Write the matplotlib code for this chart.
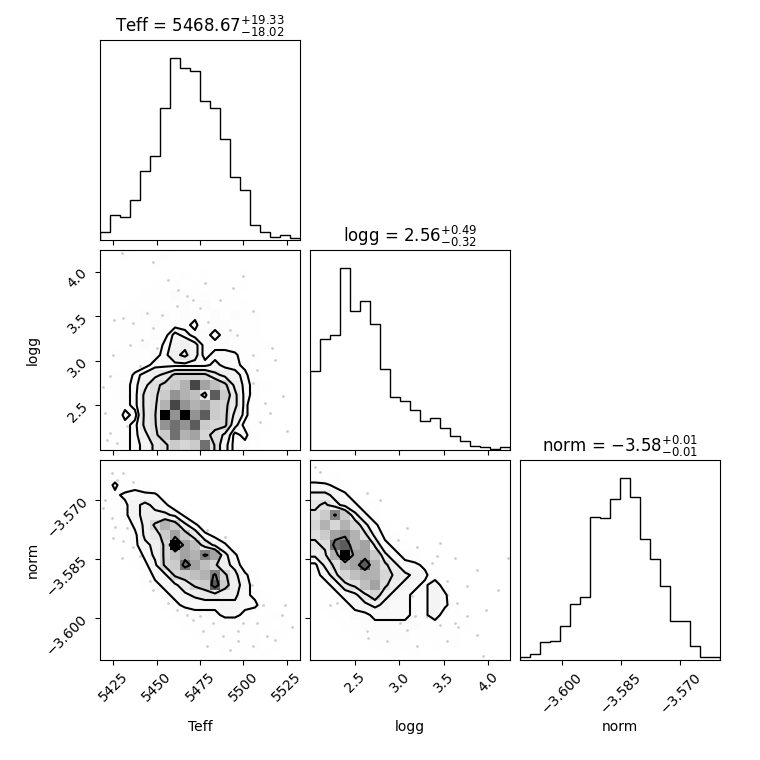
import numpy as np
import matplotlib
matplotlib.use("Agg")
import matplotlib.pyplot as plt
from matplotlib.colors import LinearSegmentedColormap

labels = ["Teff", "logg", "norm"]
titles = [r"Teff = $5468.67_{-18.02}^{+19.33}$",
          r"logg = $2.56_{-0.32}^{+0.49}$",
          r"norm = $-3.58_{-0.01}^{+0.01}$"]
ranges = [(5417.3, 5532.7), (1.996, 4.242), (-3.6107, -3.5599)]
ticks = [[5425, 5450, 5475, 5500, 5525], [2.5, 3.0, 3.5, 4.0], [-3.600, -3.585, -3.570]]
tick_labels = [["5425", "5450", "5475", "5500", "5525"],
               ["2.5", "3.0", "3.5", "4.0"],
               ["\u22123.600", "\u22123.585", "\u22123.570"]]

# 1D histogram counts (20 bins each)
teff_hist = [23, 74, 68, 120, 206, 251, 396, 545, 515, 507, 417, 396, 302, 188, 150, 44, 24, 9, 14, 6]
logg_hist = [236, 332, 345, 545, 416, 446, 377, 242, 158, 147, 120, 87, 95, 66, 41, 27, 12, 9, 4, 8]
norm_hist = [9, 17, 53, 56, 102, 167, 188, 429, 427, 484, 545, 488, 362, 302, 221, 118, 118, 41, 9, 9]

# 2D histogram counts, rows listed from top (high y) to bottom, columns left to right
teff_logg = [
    [0, 0, 1, 0, 0, 0, 1, 0, 0, 0, 0, 0, 0, 0, 0, 0, 0, 0, 0, 0],
    [0, 0, 0, 0, 0, 1, 0, 0, 0, 0, 0, 0, 0, 0, 0, 0, 0, 0, 0, 0],
    [0, 0, 0, 0, 0, 0, 0, 0, 1, 0, 1, 0, 0, 0, 1, 0, 0, 0, 0, 0],
    [0, 0, 0, 0, 0, 1, 1, 1, 0, 1, 0, 1, 1, 0, 1, 0, 0, 0, 0, 0],
    [0, 0, 0, 0, 1, 1, 1, 2, 1, 1, 1, 1, 1, 1, 0, 0, 0, 0, 0, 0],
    [0, 0, 0, 1, 1, 1, 1, 1, 2, 1, 2, 1, 1, 1, 1, 0, 0, 0, 0, 0],
    [0, 0, 1, 1, 2, 1, 2, 1, 2, 2, 1, 2, 1, 2, 1, 1, 0, 0, 0, 0],
    [0, 0, 1, 1, 1, 2, 1, 2, 2, 3, 1, 2, 2, 1, 1, 1, 0, 0, 0, 0],
    [0, 0, 1, 1, 1, 2, 2, 4, 3, 2, 2, 3, 2, 2, 1, 1, 0, 0, 0, 0],
    [0, 0, 1, 1, 2, 1, 3, 4, 5, 4, 2, 2, 2, 1, 1, 1, 1, 0, 0, 0],
    [0, 1, 1, 1, 1, 2, 3, 5, 6, 4, 2, 3, 3, 3, 1, 1, 0, 0, 0, 0],
    [0, 0, 1, 1, 2, 3, 3, 3, 3, 3, 3, 4, 3, 3, 2, 1, 1, 0, 0, 0],
    [0, 1, 1, 3, 4, 5, 6, 8, 8, 8, 8, 6, 5, 4, 3, 1, 0, 0, 0, 0],
    [0, 1, 2, 3, 5, 7, 8, 9, 11, 17, 12, 10, 8, 5, 3, 2, 1, 0, 0, 0],
    [0, 1, 2, 3, 6, 7, 9, 13, 11, 10, 6, 16, 9, 6, 3, 2, 0, 0, 0, 0],
    [1, 1, 2, 3, 6, 7, 11, 17, 13, 11, 12, 9, 8, 6, 3, 1, 1, 0, 0, 0],
    [0, 1, 3, 2, 6, 7, 20, 13, 20, 13, 16, 9, 8, 5, 3, 1, 0, 0, 0, 0],
    [1, 1, 2, 3, 6, 7, 13, 15, 13, 16, 9, 8, 8, 4, 2, 1, 1, 0, 0, 0],
    [0, 1, 2, 3, 5, 7, 9, 15, 11, 12, 8, 7, 5, 2, 3, 1, 0, 0, 0, 0],
    [1, 1, 2, 3, 4, 6, 7, 9, 8, 9, 15, 7, 4, 2, 2, 1, 0, 0, 0, 0],
]
teff_norm = [
    [0, 1, 0, 0, 0, 0, 0, 0, 0, 0, 0, 0, 0, 0, 0, 0, 0, 0, 0, 0],
    [1, 1, 1, 0, 0, 0, 0, 0, 0, 0, 0, 0, 0, 0, 0, 0, 0, 0, 0, 0],
    [1, 3, 1, 2, 1, 0, 0, 0, 0, 0, 0, 0, 0, 0, 0, 0, 0, 0, 0, 0],
    [1, 2, 3, 3, 3, 3, 1, 0, 0, 0, 0, 0, 0, 0, 0, 0, 0, 0, 0, 0],
    [0, 1, 2, 4, 5, 4, 3, 1, 0, 0, 0, 0, 0, 0, 0, 0, 0, 0, 0, 0],
    [0, 1, 2, 4, 5, 5, 5, 4, 2, 0, 0, 0, 0, 0, 0, 0, 0, 0, 0, 0],
    [0, 1, 1, 3, 5, 8, 11, 9, 5, 3, 1, 0, 0, 0, 0, 0, 0, 0, 0, 0],
    [0, 1, 1, 2, 5, 6, 9, 12, 9, 6, 3, 2, 0, 0, 0, 0, 0, 0, 0, 0],
    [0, 0, 1, 2, 4, 5, 8, 20, 12, 10, 6, 4, 3, 0, 0, 0, 0, 0, 0, 0],
    [0, 0, 1, 1, 3, 5, 8, 10, 12, 11, 14, 12, 5, 3, 0, 0, 0, 0, 0, 0],
    [0, 0, 0, 1, 2, 4, 8, 9, 15, 12, 10, 8, 5, 4, 1, 0, 0, 0, 0, 0],
    [0, 0, 0, 0, 1, 3, 4, 8, 9, 10, 11, 14, 8, 5, 3, 1, 0, 0, 0, 0],
    [0, 0, 0, 0, 1, 2, 3, 4, 6, 8, 9, 16, 9, 5, 4, 1, 0, 0, 0, 0],
    [0, 0, 0, 0, 0, 1, 2, 3, 4, 5, 6, 6, 5, 5, 3, 2, 1, 0, 0, 0],
    [0, 0, 0, 0, 0, 0, 1, 2, 3, 3, 3, 3, 4, 4, 3, 3, 1, 0, 0, 0],
    [0, 0, 0, 0, 0, 0, 0, 1, 1, 2, 2, 2, 3, 3, 2, 1, 1, 1, 0, 0],
    [0, 0, 0, 0, 0, 0, 0, 0, 1, 1, 1, 1, 1, 1, 1, 1, 1, 0, 1, 0],
    [0, 0, 0, 0, 0, 0, 0, 0, 0, 1, 1, 1, 1, 1, 1, 1, 0, 1, 1, 0],
    [0, 0, 0, 0, 0, 0, 0, 0, 0, 0, 0, 1, 1, 0, 1, 1, 0, 1, 0, 0],
    [0, 0, 0, 0, 0, 0, 0, 0, 0, 0, 0, 0, 1, 0, 1, 0, 1, 0, 0, 0],
]
logg_norm = [
    [1, 1, 0, 0, 0, 0, 0, 0, 0, 0, 0, 0, 0, 0, 0, 0, 0, 0, 0, 0],
    [1, 0, 1, 0, 0, 0, 0, 0, 0, 0, 0, 0, 0, 0, 0, 0, 0, 0, 0, 0],
    [3, 3, 2, 1, 0, 0, 0, 0, 0, 0, 0, 0, 0, 0, 0, 0, 0, 0, 0, 0],
    [5, 5, 4, 3, 1, 1, 0, 0, 0, 0, 0, 0, 0, 0, 0, 0, 0, 0, 0, 0],
    [6, 7, 5, 4, 3, 1, 1, 0, 0, 0, 0, 0, 0, 0, 0, 0, 0, 0, 0, 0],
    [7, 9, 14, 9, 5, 3, 1, 0, 0, 0, 0, 0, 0, 0, 0, 0, 0, 0, 0, 0],
    [8, 11, 8, 11, 8, 5, 3, 1, 0, 0, 0, 0, 0, 0, 0, 0, 0, 0, 0, 0],
    [7, 9, 12, 13, 11, 7, 4, 2, 1, 0, 0, 0, 0, 0, 0, 0, 0, 0, 0, 0],
    [6, 7, 15, 16, 11, 12, 6, 3, 2, 1, 0, 0, 0, 0, 0, 0, 0, 0, 0, 0],
    [5, 6, 11, 20, 12, 12, 9, 5, 3, 2, 1, 0, 0, 0, 0, 0, 0, 0, 0, 0],
    [2, 5, 7, 11, 12, 16, 11, 7, 5, 3, 3, 2, 1, 0, 0, 0, 0, 0, 0, 0],
    [2, 3, 6, 8, 10, 11, 11, 8, 6, 5, 4, 3, 1, 0, 0, 0, 0, 0, 0, 0],
    [1, 2, 3, 6, 7, 10, 12, 7, 5, 4, 3, 2, 4, 1, 0, 0, 0, 0, 0, 0],
    [1, 1, 2, 3, 4, 6, 8, 5, 4, 3, 2, 2, 4, 3, 0, 0, 0, 0, 0, 0],
    [0, 1, 1, 2, 3, 4, 5, 4, 3, 3, 2, 2, 4, 3, 1, 0, 0, 0, 0, 0],
    [0, 0, 1, 1, 2, 2, 3, 3, 3, 3, 2, 2, 4, 1, 1, 0, 0, 0, 0, 0],
    [0, 0, 0, 1, 1, 2, 2, 2, 2, 2, 2, 1, 1, 1, 1, 1, 0, 0, 0, 0],
    [0, 0, 0, 0, 1, 1, 2, 2, 2, 2, 1, 1, 1, 1, 1, 0, 0, 0, 0, 0],
    [0, 0, 0, 0, 0, 0, 1, 1, 1, 1, 1, 0, 1, 0, 1, 0, 0, 0, 0, 0],
    [0, 0, 0, 0, 0, 0, 0, 0, 1, 0, 1, 0, 0, 0, 0, 0, 0, 0, 0, 0],
]

# contour levels (in counts)
teff_logg_levels = [2.5, 3.5, 5.5, 7.5]
teff_norm_levels = [2.5, 4.5, 7.5, 13.5]
logg_norm_levels = [2.5, 4.5, 6.5, 13.5]

# sparse samples visible outside the contours
tl_teff = [5430.2, 5448.1, 5456.7, 5462.5, 5425.4, 5430.8, 5436.5, 5448.1, 5441.3, 5434.6, 5450.0, 5425.0,
           5477.9, 5486.5, 5467.3, 5475.0, 5494.2, 5500.0, 5505.8, 5516.3, 5505.8, 5518.3, 5507.7, 5505.8,
           5503.8, 5523.1, 5512.5, 5509.6, 5525.0, 5419.2, 5420.2, 5423.1, 5426.9, 5421.1, 5432.7, 5479.8,
           5492.3, 5496.2, 5461.5, 5471.2, 5452.9, 5444.2, 5487.5, 5423.1, 5440.4, 5515.4]
tl_logg = [4.207, 4.102, 3.907, 3.795, 3.458, 3.477, 3.420, 3.364, 3.233, 3.177, 3.140, 3.065,
           3.870, 3.683, 3.720, 3.589, 3.814, 3.945, 3.552, 3.140, 3.065, 3.009, 2.896, 2.747,
           2.634, 2.604, 2.522, 2.316, 2.204, 2.709, 2.410, 2.185, 2.073, 2.110, 2.260, 3.439,
           3.346, 3.290, 3.608, 3.683, 3.514, 3.533, 3.121, 2.822, 2.934, 2.410]
tn_teff = [5424.0, 5430.8, 5426.9, 5436.5, 5419.2, 5424.0, 5426.0, 5425.0, 5430.8, 5432.7, 5440.4, 5429.8,
           5446.1, 5448.1, 5436.5, 5420.2, 5478.8, 5489.4, 5495.2, 5504.8, 5511.5, 5524.0, 5522.1, 5513.5,
           5505.8, 5497.1, 5488.5, 5476.9, 5475.0, 5471.2, 5482.7, 5497.1, 5518.3, 5527.9, 5456.7, 5463.5,
           5461.5, 5467.3, 5500.0, 5507.7, 5492.3, 5478.8]
tn_norm = [-3.5633, -3.5633, -3.5650, -3.5654, -3.5722, -3.5747, -3.5768, -3.5798, -3.5806, -3.5772, -3.5844,
           -3.5848, -3.5907, -3.5929, -3.5819, -3.5700, -3.5776, -3.5795, -3.5844, -3.5916, -3.5967, -3.5967,
           -3.5992, -3.6047, -3.6072, -3.6060, -3.6047, -3.6034, -3.5996, -3.6005, -3.6013, -3.6034, -3.6055,
           -3.6022, -3.5962, -3.5958, -3.5979, -3.5992, -3.6013, -3.6013, -3.6081, -3.6072]
ln_logg = [2.052, 2.108, 2.632, 2.781, 3.081, 2.987, 3.193, 3.417, 3.455, 3.623, 3.361, 3.529, 3.642, 3.623,
           3.754, 3.866, 3.529, 3.660, 3.174, 3.081, 2.632, 2.651, 2.856, 3.193, 3.941, 4.221, 4.109, 2.220,
           2.295, 2.557, 3.529, 3.754, 3.866, 3.137, 3.006, 3.305, 3.455, 3.978]
ln_norm = [-3.5616, -3.5629, -3.5684, -3.5700, -3.5772, -3.5802, -3.5819, -3.5844, -3.5810, -3.5848, -3.5861,
           -3.5907, -3.5962, -3.6013, -3.5996, -3.6043, -3.6060, -3.6022, -3.5996, -3.6030, -3.6034, -3.6051,
           -3.6060, -3.6072, -3.6098, -3.5848, -3.5929, -3.5967, -3.5962, -3.5971, -3.5941, -3.5920, -3.5878,
           -3.5945, -3.6013, -3.5996, -3.6017, -3.5979]

hists = [teff_hist, logg_hist, norm_hist]
grids = {(1, 0): teff_logg, (2, 0): teff_norm, (2, 1): logg_norm}
grid_levels = {(1, 0): teff_logg_levels, (2, 0): teff_norm_levels, (2, 1): logg_norm_levels}
points = {(1, 0): (tl_teff, tl_logg), (2, 0): (tn_teff, tn_norm), (2, 1): (ln_logg, ln_norm)}

density_cmap = LinearSegmentedColormap.from_list("density_cmap", ["k", (1, 1, 1, 0)])
white_cmap = LinearSegmentedColormap.from_list("white_cmap", [(1, 1, 1), (1, 1, 1)], N=2)


def draw_hist2d(ax, grid, V, xr, yr, px, py):
    H = np.array(grid, dtype=float)[::-1, :].T
    X = np.linspace(xr[0], xr[1], H.shape[0] + 1)
    Y = np.linspace(yr[0], yr[1], H.shape[1] + 1)

    # pad the grid so contours close at the panel edges
    X1, Y1 = 0.5 * (X[1:] + X[:-1]), 0.5 * (Y[1:] + Y[:-1])
    H2 = H.min() + np.zeros((H.shape[0] + 4, H.shape[1] + 4))
    H2[2:-2, 2:-2] = H
    H2[2:-2, 1] = H[:, 0]
    H2[2:-2, -2] = H[:, -1]
    H2[1, 2:-2] = H[0]
    H2[-2, 2:-2] = H[-1]
    H2[1, 1] = H[0, 0]
    H2[1, -2] = H[0, -1]
    H2[-2, 1] = H[-1, 0]
    H2[-2, -2] = H[-1, -1]
    X2 = np.concatenate([X1[0] + np.array([-2, -1]) * np.diff(X1[:2]), X1,
                         X1[-1] + np.array([1, 2]) * np.diff(X1[-2:])])
    Y2 = np.concatenate([Y1[0] + np.array([-2, -1]) * np.diff(Y1[:2]), Y1,
                         Y1[-1] + np.array([1, 2]) * np.diff(Y1[-2:])])

    ax.plot(px, py, "o", color="k", ms=2, mec="none", alpha=0.2, zorder=-1)
    ax.contourf(X2, Y2, H2.T, [min(V), H.max()], cmap=white_cmap, antialiased=False)
    ax.pcolor(X, Y, H.max() - H.T, cmap=density_cmap)
    ax.contour(X2, Y2, H2.T, V, colors="k", linewidths=1.5)
    ax.set_xlim(xr)
    ax.set_ylim(yr)


fig, axes = plt.subplots(3, 3, figsize=(7.6, 7.6), dpi=100)
fig.subplots_adjust(left=100 / 760, right=720 / 760, bottom=100 / 760, top=720 / 760,
                    wspace=0.05, hspace=0.05)

for i in range(3):
    for j in range(3):
        ax = axes[i, j]
        if j > i:
            ax.set_frame_on(False)
            ax.set_xticks([])
            ax.set_yticks([])
            continue
        if i == j:
            edges = np.linspace(ranges[i][0], ranges[i][1], len(hists[i]) + 1)
            ax.stairs(hists[i], edges, color="k", lw=1)
            ax.set_xlim(ranges[i])
            ax.set_ylim(0, 1.1 * max(hists[i]))
            ax.set_yticks([])
            ax.set_title(titles[i])
        else:
            px, py = points[(i, j)]
            draw_hist2d(ax, grids[(i, j)], grid_levels[(i, j)], ranges[j], ranges[i], px, py)
            ax.set_yticks(ticks[i])
            if j == 0:
                ax.set_yticklabels(tick_labels[i], rotation=45)
                ax.set_ylabel(labels[i])
                ax.yaxis.set_label_coords(-0.3, 0.5)
            else:
                ax.set_yticklabels([])
        ax.set_xticks(ticks[j])
        if i == 2:
            ax.set_xticklabels(tick_labels[j], rotation=45)
            ax.set_xlabel(labels[j])
            ax.xaxis.set_label_coords(0.5, -0.3)
        else:
            ax.set_xticklabels([])

fig.savefig("out.png", dpi=100)
